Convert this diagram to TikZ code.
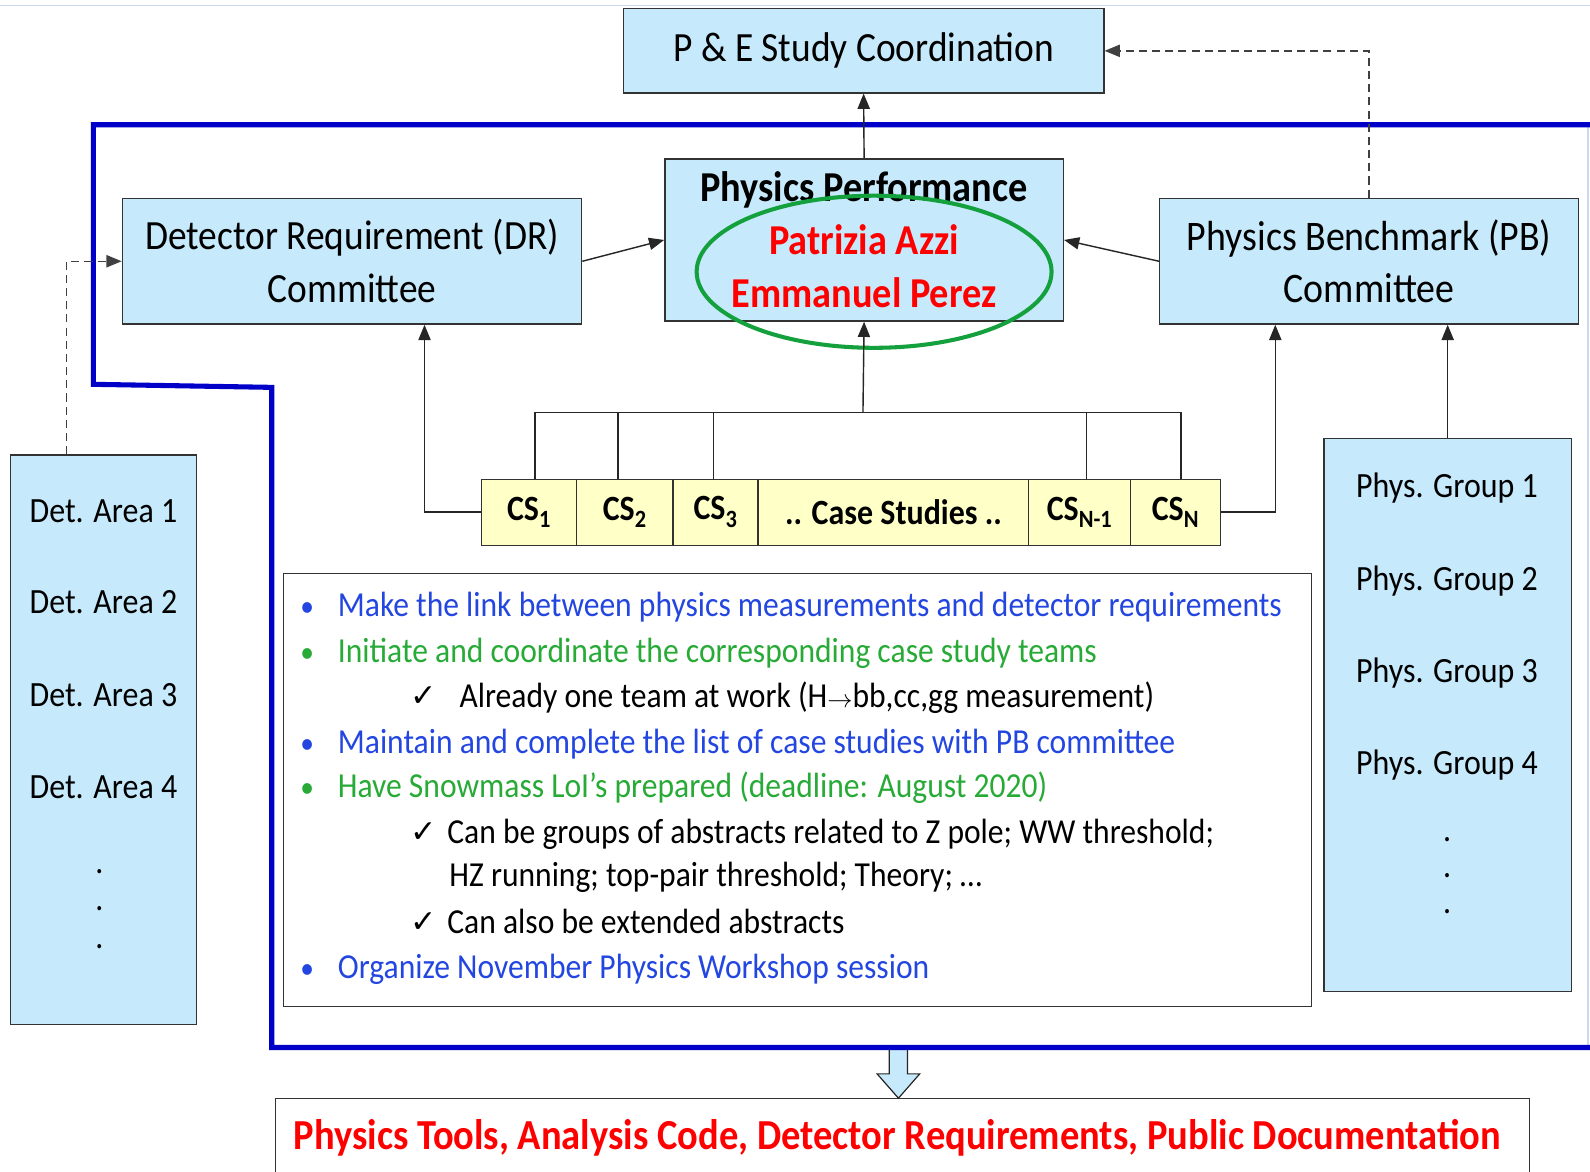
\documentclass[tikz,border=0pt]{standalone}
\usepackage{fontspec}
\setmainfont[FakeStretch=0.9]{Carlito}
\newfontfamily\oldnum[FakeStretch=0.9]{Carlito}
\newfontfamily\symfont{DejaVu Sans}
\usetikzlibrary{arrows.meta,shapes.geometric,calc}

\definecolor{boxblue}{RGB}{198,234,251}
\definecolor{csyellow}{RGB}{255,255,200}
\definecolor{frameblue}{RGB}{0,0,200}
\definecolor{txtblue}{RGB}{35,70,225}
\definecolor{txtgreen}{RGB}{40,170,55}
\definecolor{ringgreen}{RGB}{20,160,60}
\definecolor{txtred}{RGB}{255,0,0}
\definecolor{edgefaint}{RGB}{205,215,240}

\begin{document}
\begin{tikzpicture}[x=1pt,y=-1pt,
  box/.style={draw=black!80, line width=1.3pt, fill=boxblue, inner sep=0pt,
    align=center, anchor=north west},
  csbox/.style={draw=black!80, line width=1.2pt, fill=csyellow, inner sep=0pt,
    anchor=north west, minimum height=65pt, font=\fontsize{35}{40}\selectfont\bfseries},
  arr/.style={draw=black!85, line width=1.4pt, -{Triangle[length=15pt,width=12pt]}},
  dasharr/.style={draw=black!75, line width=1.5pt, dash pattern=on 8pt off 5pt,
    -{Triangle[length=15pt,width=12pt]}},
  link/.style={draw=black!85, line width=1.4pt},
  lbl/.style={anchor=base, inner sep=0pt, font=\oldnum\fontsize{35}{40}\selectfont},
  dotlbl/.style={anchor=base, inner sep=0pt, font=\fontsize{35}{40}\selectfont},
  txt/.style={anchor=base west, inner sep=0pt, font=\fontsize{34.6}{40}\selectfont},
  bul/.style={anchor=base, inner sep=0pt, font=\fontsize{30}{40}\selectfont},
  chk/.style={anchor=base, inner sep=0pt, font=\symfont\fontsize{31}{40}\selectfont},
]
\clip (0,0) rectangle (1568,1155);
\fill[white] (0,0) rectangle (1568,1155);

% slide edges
\draw[edgefaint, line width=1pt] (0,5) -- (1568,5);
\draw[edgefaint, line width=1pt] (1566,123) -- (1566,1033);

% committees
\node[box, minimum width=474pt, minimum height=83pt,
  font=\fontsize{41}{48}\selectfont] (pe) at (614,8) {P \& E Study Coordination};
\node[box, minimum width=453pt, minimum height=124pt,
  font=\fontsize{41}{52}\selectfont] (dr) at (120,195) {Detector Requirement (DR)\\Committee};
\node[box, minimum width=393pt, minimum height=160pt,
  font=\fontsize{42}{52.5}\selectfont\bfseries] (pp) at (655,156)
  {Physics Performance\\\textcolor{txtred}{Patrizia Azzi}\\\textcolor{txtred}{Emmanuel Perez}};
\node[box, minimum width=413pt, minimum height=124pt,
  font=\fontsize{41.5}{52}\selectfont] (pb) at (1143,195) {Physics Benchmark (PB)\\Committee};

% conveners ring
\node[draw=ringgreen, line width=4pt, ellipse, minimum width=350pt, minimum height=150pt,
  inner sep=0pt] (ring) at (862,268) {};

% case studies row
\node[csbox, minimum width=94pt] (cs1) at (474,472) {CS\textsubscript{1}};
\node[csbox, minimum width=95pt] (cs2) at (568,472) {CS\textsubscript{2}};
\node[csbox, minimum width=84pt] (cs3) at (663,472) {CS\textsubscript{3}};
\node[csbox, minimum width=267pt] (csm) at (747,472) {.. Case Studies ..};
\node[csbox, minimum width=100pt] (csn1) at (1014,472) {CS\textsubscript{N-1}};
\node[csbox, minimum width=89pt] (csn) at (1114,472) {CS\textsubscript{N}};

% detector areas
\node[box, minimum width=183pt, minimum height=562pt] (det) at (10,448) {};
\node[lbl] (da1) at (102,515) {Det. Area 1};
\node[lbl] (da2) at (102,605) {Det. Area 2};
\node[lbl] (da3) at (102,697) {Det. Area 3};
\node[lbl] (da4) at (102,787) {Det. Area 4};
\node[dotlbl] (dd1) at (98,861) {.};
\node[dotlbl] (dd2) at (98,898) {.};
\node[dotlbl] (dd3) at (98,935) {.};

% physics groups
\node[box, minimum width=244pt, minimum height=545pt] (pg) at (1305,432) {};
\node[lbl] (pg1) at (1427,491) {Phys. Group 1};
\node[lbl] (pg2) at (1427,582) {Phys. Group 2};
\node[lbl] (pg3) at (1427,673) {Phys. Group 3};
\node[lbl] (pg4) at (1427,764) {Phys. Group 4};
\node[dotlbl] (pd1) at (1427,830) {.};
\node[dotlbl] (pd2) at (1427,865) {.};
\node[dotlbl] (pd3) at (1427,901) {.};

% mandate text
\node[draw=black!80, line width=1.2pt, fill=white, anchor=north west, inner sep=0pt,
  minimum width=1014pt, minimum height=427pt] (mandate) at (279,565) {};
\node[bul, txtblue] (b1) at (303,608) {•};
\node[txt, txtblue] (l1) at (333,608) {Make the link between physics measurements and detector requirements};
\node[bul, txtgreen] (b2) at (303,653) {•};
\node[txt, txtgreen] (l2) at (333,653) {Initiate and coordinate the corresponding case study teams};
\node[chk] (c3) at (418,697) {✓};
\node[txt] (l3) at (453,698) {Already one team at work (H$\rightarrow$bb,cc,gg measurement)};
\node[bul, txtblue] (b4) at (303,743) {•};
\node[txt, txtblue] (l4) at (333,743) {Maintain and complete the list of case studies with PB committee};
\node[bul, txtgreen] (b5) at (303,786) {•};
\node[txt, txtgreen] (l5) at (333,786) {Have Snowmass LoI’s prepared (deadline: August 2020)};
\node[chk] (c6) at (418,831) {✓};
\node[txt] (l6) at (441,832) {Can be groups of abstracts related to Z pole; WW threshold;};
\node[txt] (l7) at (443,874) {HZ running; top-pair threshold; Theory; …};
\node[chk] (c8) at (418,920) {✓};
\node[txt] (l8) at (441,921) {Can also be extended abstracts};
\node[bul, txtblue] (b9) at (303,965) {•};
\node[txt, txtblue] (l9) at (333,965) {Organize November Physics Workshop session};

% deliverables
\node[draw=black!80, line width=1.2pt, fill=white, anchor=north west, inner sep=0pt,
  minimum width=1237pt, minimum height=110pt] (out) at (271,1083) {};
\node[anchor=base, inner sep=0pt, txtred, font=\fontsize{42.2}{48}\selectfont\bfseries]
  (outtxt) at (885,1134) {Physics Tools, Analysis Code, Detector Requirements, Public Documentation};

% hollow arrow towards the deliverables
\coordinate (flowtop) at (886,1033);
\filldraw[fill=boxblue, draw=black!85, line width=1.2pt]
  ($(flowtop)+(-9,0)$) -- ($(flowtop)+(9,0)$) -- ($(flowtop)+(9,26)$) -- ($(flowtop)+(21,26)$)
  -- (out.north -| flowtop) -- ($(flowtop)+(-21,26)$) -- ($(flowtop)+(-9,26)$) -- cycle;

% study frame
\draw[frameblue, line width=5pt, line join=miter]
  (1580,123) -- (92,123) -- (92,379) -- (268,382) -- (268,1033) -- (1580,1033);

% connectors
\draw[arr] (pp.north) -- (pe.south);
\draw[arr] (dr.east) -- (pp.west);
\draw[arr] (pb.west) -- (pp.east);
\draw[dasharr] (pb.north) |- (pe.east);
\draw[dasharr] ([xshift=-36.5pt]det.north) |- (dr.west);

\coordinate (hub) at (851,407);
\draw[arr] (hub) -- (pp.south);
\draw[link] ([xshift=6pt]cs1.north) |- (hub) -| ([xshift=5.5pt]csn.north);
\draw[link] ([xshift=-6.5pt]cs2.north) -- ([xshift=-6.5pt]cs2.north |- hub);
\draw[link] ([xshift=-2pt]cs3.north) -- ([xshift=-2pt]cs3.north |- hub);
\draw[link] ([xshift=7pt]csn1.north) -- ([xshift=7pt]csn1.north |- hub);

\draw[arr] (cs1.west) -| ([xshift=71.5pt]dr.south);
\draw[arr] (csn.east) -| ([xshift=-92.5pt]pb.south);
\draw[arr] (pg.north) -- (pg.north |- pb.south);
\end{tikzpicture}
\end{document}
